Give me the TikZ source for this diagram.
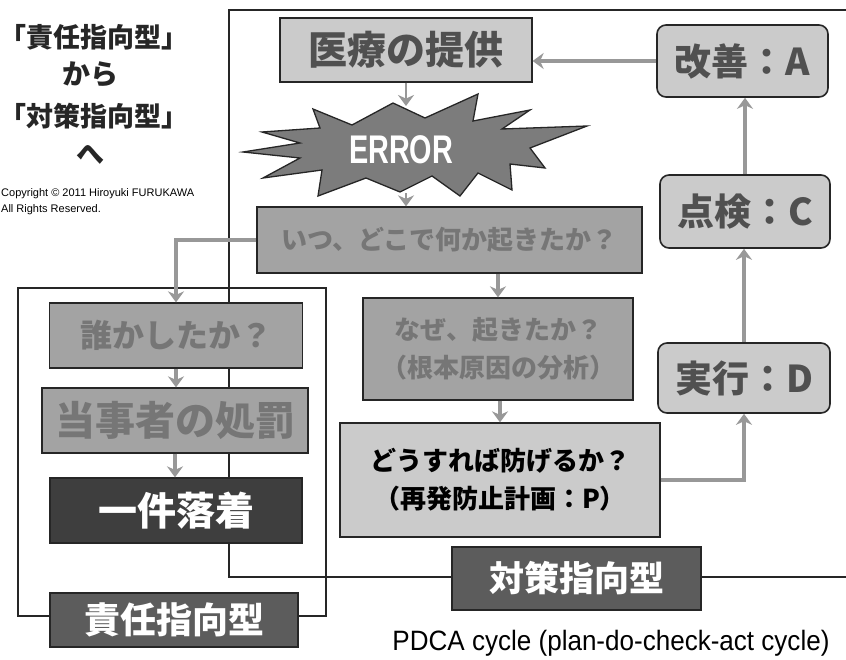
\documentclass[tikz,border=0pt]{standalone}
\usepackage{fontspec}
\setmainfont{Liberation Sans}
\newfontfamily\jp{Noto Sans CJK JP}
\usetikzlibrary{arrows.meta}

\definecolor{fadefill}{HTML}{A3A3A3}
\definecolor{fadetext}{HTML}{767676}
\definecolor{lightfill}{HTML}{CBCBCB}
\definecolor{boldtext}{HTML}{505050}
\definecolor{darkfill}{HTML}{3E3E3E}
\definecolor{labelfill}{HTML}{5C5C5C}
\definecolor{arrowgray}{HTML}{989898}
\definecolor{starfill}{HTML}{7C7C7C}

\newcommand{\fsz}[1]{\fontsize{#1}{#1}\selectfont}

\tikzset{
  box/.style={draw=black!85, line width=1.3pt, inner sep=0pt, align=center, font=\jp\bfseries},
  fadebox/.style={box, fill=fadefill, text=fadetext},
  lightbox/.style={box, fill=lightfill, text=boldtext},
  pdcabox/.style={box, fill=lightfill, text=boldtext, rounded corners=9pt, line width=1.6pt},
  darkbox/.style={box, fill=darkfill, text=white},
  labelbox/.style={box, fill=labelfill, text=white},
  frame/.style={draw=black!85, line width=2.4pt},
  arr/.style={draw=arrowgray, line width=3.2pt, -{Stealth[length=11pt,width=16pt]}},
  plain/.style={inner sep=0pt, align=center}
}

\begin{document}
\begin{tikzpicture}[x=1pt,y=-1pt]
\useasboundingbox (0,0) rectangle (846,659);
\fill[white] (0,0) rectangle (846,659);

% frames
\draw[frame] (850,10) -- (229,10) -- (229,577) -- (850,577);
\draw[frame] (18,288) rectangle (326,616);

% title block
\node[plain, font=\jp\bfseries\fsz{27}, text=black!85] (t1) at (94,37) {「責任指向型」};
\node[plain, font=\jp\bfseries\fsz{28}, text=black!85] (t2) at (90,74) {から};
\node[plain, font=\jp\bfseries\fsz{27}, text=black!85] (t3) at (94,116) {「対策指向型」};
\node[plain, font=\jp\bfseries\fsz{28}, text=black!85] (t4) at (90,155) {へ};
\node[plain, anchor=west, font=\fsz{11}] (c1) at (1,194) {Copyright \textcopyright\ 2011 Hiroyuki FURUKAWA};
\node[plain, anchor=west, font=\fsz{11}] (c2) at (1,210) {All Rights Reserved.};

% top flow
\node[lightbox, minimum width=252pt, minimum height=64pt, font=\jp\bfseries\fsz{39}] (iryo) at (406,50) {医療の提供};

% ERROR star
\draw[draw=black!85, line width=1.3pt, fill=starfill]
  (243,152) -- (300,143) -- (262,132) -- (320,128) -- (313,109) -- (352,125)
  -- (393,103) -- (425,118) -- (478,94) -- (473,121) -- (530,110) -- (502,129)
  -- (587,126) -- (530,148) -- (545,168) -- (510,164) -- (512,190) -- (478,173)
  -- (460,196) -- (432,176) -- (400,192) -- (366,178) -- (318,196) -- (322,170)
  -- (263,178) -- (300,158) -- cycle;
\node[plain, font=\bfseries\fsz{40}, text=white, xscale=0.72] (err) at (401,150) {ERROR};
\coordinate (errtop) at (406,106);
\coordinate (errbot) at (406,193);

\node[fadebox, minimum width=385pt, minimum height=66pt, font=\jp\bfseries\fsz{26}] (itsu) at (449.5,240) {いつ、どこで何か起きたか？};
\node[fadebox, minimum width=270pt, minimum height=102pt, font=\jp\bfseries\fsz{26}] (naze) at (498,349)
  {\fsz{26}なぜ、起きたか？\\[12pt]\fsz{26}（根本原因の分析）};
\node[lightbox, text=black, minimum width=320pt, minimum height=114pt, font=\jp\bfseries\fsz{26}] (dou) at (500,480)
  {\fsz{26}どうすれば防げるか？\\[12pt]\fsz{26}（再発防止計画：P）};

% PDCA boxes
\node[pdcabox, minimum width=171pt, minimum height=72pt, font=\jp\bfseries\fsz{37}] (kaizen) at (742.5,61) {改善：A};
\node[pdcabox, minimum width=170pt, minimum height=73pt, font=\jp\bfseries\fsz{37}] (tenken) at (745,211.5) {点検：C};
\node[pdcabox, minimum width=172pt, minimum height=70pt, font=\jp\bfseries\fsz{37}] (jikkou) at (744,378) {実行：D};

% left column
\node[fadebox, minimum width=253pt, minimum height=65pt, font=\jp\bfseries\fsz{32}] (dare) at (176,335.5) {誰かしたか？};
\node[fadebox, minimum width=266pt, minimum height=65pt, font=\jp\bfseries\fsz{40}] (touji) at (175,420.5) {当事者の処罰};
\node[darkbox, minimum width=252pt, minimum height=65pt, font=\jp\bfseries\fsz{39}] (ikken) at (176,510.5) {一件落着};

% labels
\node[labelbox, minimum width=248pt, minimum height=54pt, font=\jp\bfseries\fsz{36}] (sekinin) at (174,620) {責任指向型};
\node[labelbox, minimum width=249pt, minimum height=63pt, font=\jp\bfseries\fsz{35}] (taisaku) at (576.5,578.5) {対策指向型};

\node[plain, font=\fsz{28}, xscale=0.93] (pdca) at (611,643) {PDCA cycle (plan-do-check-act cycle)};

% connectors
\draw[arr] (kaizen.west) -- (kaizen.west -| iryo.east);
\draw[arr, line width=2.4pt] (iryo.south) -- (errtop);
\draw[arr, line width=2.4pt] (errbot) -- (errbot |- itsu.north);
\draw[arr] (itsu.west) -| (dare.north);
\draw[arr] (dare.south) -- (dare.south |- touji.north);
\draw[arr] (touji.south) -- (touji.south |- ikken.north);
\draw[arr] (naze.north |- itsu.south) -- (naze.north);
\draw[arr] (dou.north |- naze.south) -- (dou.north);
\draw[arr] (dou.east) -| (jikkou.south);
\draw[arr] (jikkou.north) -- (jikkou.north |- tenken.south);
\draw[arr] (tenken.north) -- (tenken.north |- kaizen.south);
\end{tikzpicture}
\end{document}
